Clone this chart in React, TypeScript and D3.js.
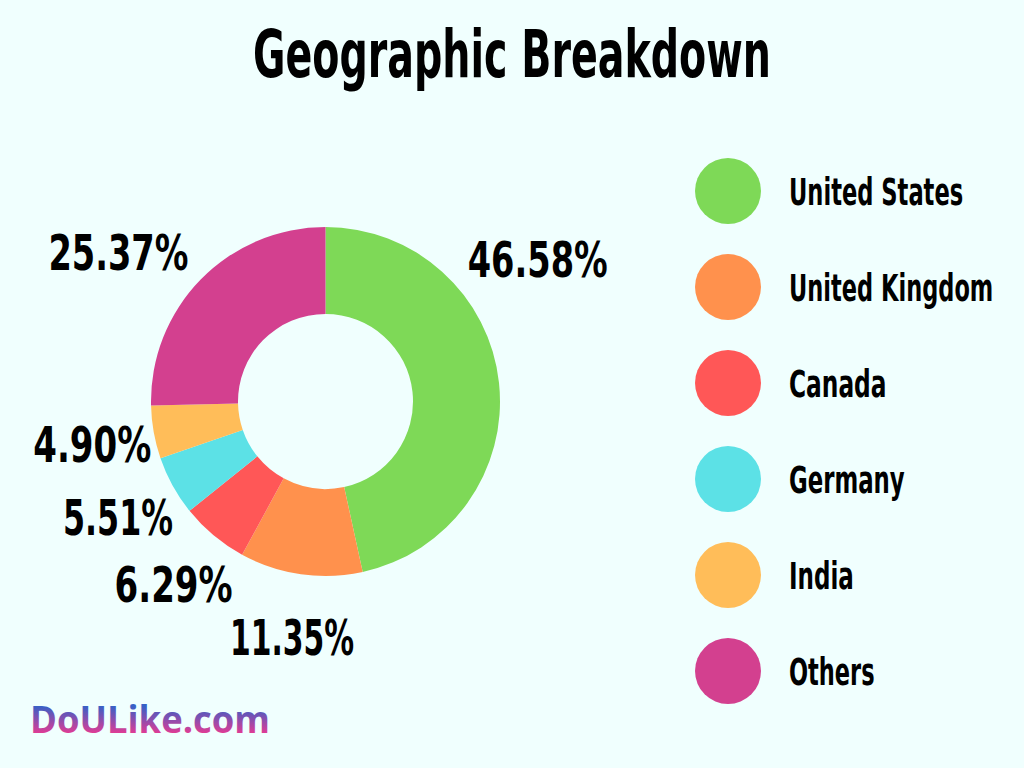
import React from "react";
import * as d3 from "d3";

const categories = ["United States", "United Kingdom", "Canada", "Germany", "India", "Others"];
const values = [46.58, 11.35, 6.29, 5.51, 4.9, 25.37];
const colors = ["#7ED957", "#FF914D", "#FF5757", "#5CE1E6", "#FFBD59", "#D3408F"];
const labels = ["46.58%", "11.35%", "6.29%", "5.51%", "4.90%", "25.37%"];

const W = 1024;
const H = 768;
const FONT = "'DejaVu Sans Condensed', 'DejaVu Sans', sans-serif";

// approximate widths of a very condensed display face
function labelWidth(s: string): number {
  let w = 0;
  for (const ch of s) {
    if (ch === "1") w += 14;
    else if (ch === ".") w += 11;
    else if (ch === "%") w += 41;
    else w += 22;
  }
  return w;
}
function legendWidth(s: string): number {
  let w = 0;
  for (const ch of s) {
    if (ch === " ") w += 7.6;
    else if ("itlIj".includes(ch)) w += 8.7;
    else if (ch === "r") w += 11;
    else if (ch === "m" || ch === "w") w += 23;
    else if (ch >= "A" && ch <= "Z") w += 18.5;
    else w += 15.8;
  }
  return w;
}

export default function App() {
  const cx = 325.5;
  const cy = 401.5;
  const outerR = 174.5;
  const innerR = 87.5;
  const pie = d3.pie<number>().sort(null).value((d) => d);
  const arcs = pie(values);
  const arcGen = d3.arc<d3.PieArcDatum<number>>().innerRadius(innerR).outerRadius(outerR);
  const n = arcs.length;
  const deg = Math.PI / 180;

  const legendY = d3.scalePoint<string>().domain(categories).range([191, 671]);

  return (
    <svg width={W} height={H} style={{ position: "absolute", left: 0, top: 0, background: "#F0FFFE" }}>
      <defs>
        <linearGradient id="logoGrad" gradientUnits="userSpaceOnUse" x1="0" y1="706" x2="0" y2="734">
          <stop offset="0%" stopColor="#3760C6" />
          <stop offset="100%" stopColor="#E53B93" />
        </linearGradient>
      </defs>
      <rect width={W} height={H} fill="#F0FFFE" />
      <text
        x={512}
        y={77}
        textAnchor="middle"
        fontFamily={FONT}
        fontWeight="bold"
        fontSize={66}
        textLength={518}
        lengthAdjust="spacingAndGlyphs"
        fill="#000"
      >
        Geographic Breakdown
      </text>
      <g transform={`translate(${cx},${cy})`}>
        {arcs.map((a, i) => (
          <path key={i} d={arcGen(a) || ""} fill={colors[i]} />
        ))}
        {arcs.map((a, i) => {
          const span = a.endAngle - a.startAngle;
          const big = span > 60 * deg;
          let ang = a.startAngle + span / 2;
          if (big && i === 0) ang = a.startAngle + 56 * deg;
          if (big && i === n - 1) ang = a.endAngle - 54 * deg;
          const r = big ? 256 : 237;
          const x = Math.sin(ang) * r;
          const y = -Math.cos(ang) * r;
          return (
            <text
              key={i}
              x={x}
              y={y + 18.5}
              textAnchor="middle"
              fontFamily={FONT}
              fontWeight="bold"
              fontSize={50}
              textLength={labelWidth(labels[i])}
              lengthAdjust="spacingAndGlyphs"
              fill="#000"
            >
              {labels[i]}
            </text>
          );
        })}
      </g>
      {categories.map((c, i) => {
        const y = legendY(c) as number;
        return (
          <g key={c}>
            <circle cx={728} cy={y} r={33} fill={colors[i]} />
            <text
              x={789}
              y={y + 14}
              fontFamily={FONT}
              fontWeight="bold"
              fontSize={37}
              textLength={legendWidth(c)}
              lengthAdjust="spacingAndGlyphs"
              fill="#000"
            >
              {c}
            </text>
          </g>
        );
      })}
      <text
        x={30}
        y={733}
        fontFamily="'Open Sans', sans-serif"
        fontWeight="bold"
        fontSize={38}
        textLength={240}
        lengthAdjust="spacingAndGlyphs"
        fill="url(#logoGrad)"
      >
        DoULike.com
      </text>
    </svg>
  );
}
